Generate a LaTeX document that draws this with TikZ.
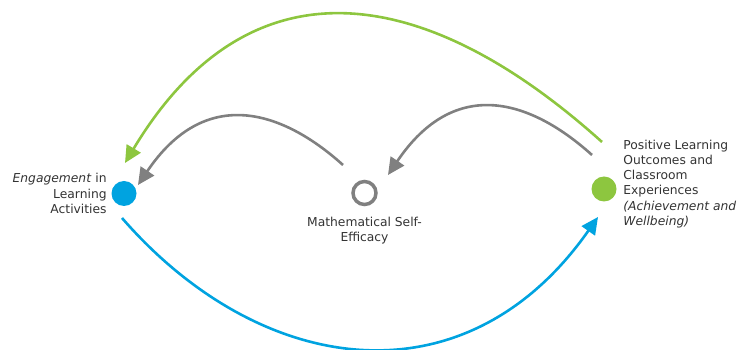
\documentclass[tikz,border=0pt]{standalone}
\usepackage{fontspec}
\setmainfont{DejaVu Sans}
\usepackage{xcolor}
\usepackage{tikz}
\usetikzlibrary{arrows.meta,positioning}
\definecolor{lpgreen}{HTML}{8DC63F}
\definecolor{lpblue}{HTML}{00A3E0}
\definecolor{lpgrey}{HTML}{808080}
\definecolor{lptext}{HTML}{333333}

\begin{document}
\begin{tikzpicture}[x=1pt, y=1pt,
  dot/.style={circle, inner sep=0pt, minimum size=25pt},
  lbl/.style={text=lptext, font=\fontsize{12.3}{15.2}\selectfont, inner sep=0pt},
  link/.style={line width=2.6pt, -{Triangle[length=17pt, width=16pt]}}]
  \useasboundingbox (0,0) rectangle (743,350);
  \node[dot, fill=lpblue] (eng) at (124,156.5) {};
  \node[dot, draw=lpgrey, line width=3.5pt, minimum size=23pt] (mse) at (364.5,157) {};
  \node[dot, fill=lpgreen] (plo) at (604,161) {};
  \node[lbl, align=right, left=4.5pt of eng] (englbl) {\textit{Engagement} in\\Learning\\Activities};
  \node[lbl, align=center, below=11pt of mse] (mselbl) {Mathematical Self-\\Efficacy};
  \node[lbl, align=left, right=6.5pt of plo, yshift=5pt] (plolbl) {Positive Learning\\Outcomes and\\Classroom\\Experiences\\\textit{(Achievement and}\\\textit{Wellbeing)}};
  % free ends of the arcs
  \coordinate (g0) at ([shift={(-2,47)}]plo.center);
  \coordinate (g1) at ([shift={(1,30.5)}]eng.center);
  \coordinate (a0) at ([shift={(-21.5,28)}]mse.center);
  \coordinate (a1) at ([shift={(14,8.5)}]eng.center);
  \coordinate (b0) at ([shift={(-12,34)}]plo.center);
  \coordinate (b1) at ([shift={(23.5,18)}]mse.center);
  \coordinate (c0) at ([shift={(-2,-24.5)}]eng.center);
  \coordinate (c1) at ([shift={(-6,-28)}]plo.center);
  % arcs
  \draw[link, lpgreen] (g0) .. controls +(-175,157.5) and +(125.7,209.1) .. (g1);
  \draw[link, lpgrey] (a0) .. controls +(-60.7,54.7) and +(67.4,100) .. (a1);
  \draw[link, lpgrey] (b0) .. controls +(-60.7,54.7) and +(67.4,100) .. (b1);
  \draw[link, lpblue] (c0) .. controls +(137.8,-158.6) and +(-133.2,-190) .. (c1);
\end{tikzpicture}
\end{document}
